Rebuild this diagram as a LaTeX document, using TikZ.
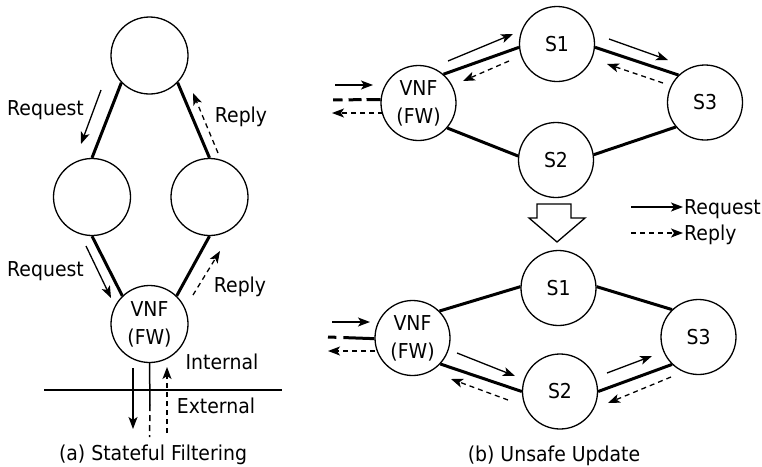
\documentclass[tikz,border=0pt]{standalone}
\usepackage{fontspec}
\setmainfont{DejaVu Sans}[FakeStretch=0.92]
\usetikzlibrary{arrows.meta}

\begin{document}
\begin{tikzpicture}[x=1pt,y=-1pt,
  font=\fontsize{20.5}{28}\selectfont,
  sw/.style={circle,draw,line width=1.3pt,minimum size=75pt,inner sep=0pt,align=center},
  link/.style={line width=3pt},
  req/.style={line width=1.3pt,-{Stealth[length=12pt,width=9pt,inset=3pt]}},
  rep/.style={req,dash pattern=on 5pt off 4pt},
  lbl/.style={anchor=base,inner sep=0pt},
]
\useasboundingbox (0,0) rectangle (762,466);

% ---------------- (a) stateful filtering ----------------
\node[sw, minimum size=77pt] (top)  at (149.5,55.5) {};
\node[sw, minimum size=77pt] (lft)  at (92,197) {};
\node[sw, minimum size=77pt] (rgt)  at (209.5,197) {};
\node[sw, minimum size=77pt] (fwA)  at (149.5,324) {VNF\\(FW)};

\draw[link] (top.-136) -- (lft.90);
\draw[link] (top.-44)  -- (rgt.90);
\draw[link] (lft.270)  -- (fwA.134);
\draw[link] (rgt.270)  -- (fwA.46);

\draw[req] (101,90) -- (81,144);
\draw[rep] (218,153) -- (193,93);
\draw[req] (86,246) -- (111,298);
\draw[rep] (193,295) -- (220,251);

\node[lbl] (reqA) at (45.5,115) {Request};
\node[lbl] (repA) at (241,122) {Reply};
\node[lbl] (reqB) at (45.5,276) {Request};
\node[lbl] (repB) at (240,292) {Reply};

% boundary between internal and external side
\coordinate (bL) at (44,390);
\coordinate (bR) at (282,390);
\draw[line width=1.3pt] (bL) -- (bR);
\node[lbl] (int) at (222,369) {Internal};
\node[lbl] (ext) at (216,413) {External};

% external link of the firewall
\coordinate (exA) at (150,405);
\coordinate (exB) at (149.5,437);
\draw[line width=1.5pt] (fwA.south) -- (exA);
\draw[line width=1.5pt, dash pattern=on 6pt off 4pt] (exA) -- (exB);

\draw[req] (133,368) -- (133,429);
\draw[rep] (167,433) -- (167,367);

\node[lbl] (capA) at (153,460.5) {(a) Stateful Filtering};

% ---------------- (b) unsafe update: before ----------------
\node[sw] (fw1) at (418.5,103) {VNF\\(FW)};
\node[sw] (s11) at (557,44) {S1};
\node[sw] (s21) at (556,160) {S2};
\node[sw] (s31) at (705,102.5) {S3};

\draw[link] (fw1.49)  -- (s11.185);
\draw[link] (fw1.-41) -- (s21.174);
\draw[link] (s11.-5)  -- (s31.134);
\draw[link] (s21.8)   -- (s31.-140);

\draw[req] (448,61) -- (513,34);
\draw[rep] (509,61) -- (463,81);
\draw[req] (609,39) -- (668,60);
\draw[rep] (663,83) -- (607,64);

\coordinate (in1) at (333,99.8);
\draw[req] (335,85) -- (373,85);
\draw[line width=3pt, dash pattern=on 14pt off 5pt on 13pt off 6pt on 10pt off 20pt] (fw1.175) -- (in1);
\draw[rep] (383,113) -- (332,113);

% update step
\draw[line width=1.3pt, line join=miter]
  (537,204) -- (571,204) -- (571,218) -- (585,218) -- (557,242)
  -- (529,218) -- (537,218) -- cycle;

% legend
\draw[req] (631,207) -- (683,207);
\draw[rep] (631,233) -- (683,233);
\node[lbl, anchor=base west] (lgA) at (684,214) {Request};
\node[lbl, anchor=base west] (lgB) at (684,240) {Reply};

% ---------------- (b) unsafe update: after ----------------
\node[sw] (fw2) at (412.5,338) {VNF\\(FW)};
\node[sw] (s12) at (558.5,288) {S1};
\node[sw] (s22) at (560,391.5) {S2};
\node[sw] (s32) at (698.5,337) {S3};

\draw[link] (fw2.45.5) -- (s12.178);
\draw[link] (fw2.-43)  -- (s22.180);
\draw[link] (s12.2)    -- (s32.134);
\draw[link] (s22.0)    -- (s32.-134);

\draw[req] (457,353) -- (515,376);
\draw[rep] (508,400) -- (451,379);
\draw[req] (607,373) -- (652,356);
\draw[rep] (671,377) -- (608,403);

\coordinate (in2) at (328,337);
\draw[req] (332,322) -- (370,322);
\draw[line width=3pt, dash pattern=on 31pt off 7pt on 10pt off 20pt] (fw2.181) -- (in2);
\draw[rep] (375,351) -- (328,351);

\node[lbl] (capB) at (554,461.5) {(b) Unsafe Update};
\end{tikzpicture}
\end{document}
